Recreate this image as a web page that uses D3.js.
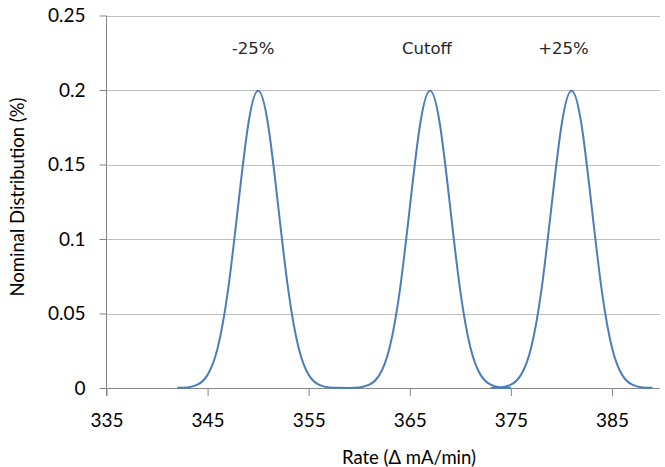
<!DOCTYPE html>
<html>
<head>
<meta charset="utf-8">
<script src="https://cdn.jsdelivr.net/npm/d3@7"></script>
<style>
	html, body { margin: 0; padding: 0; background: #fff; }
	svg { display: block; }
	.tick-label { font-family: Lato, 'Open Sans', sans-serif; font-size: 19px; fill: #000; }
	.axis-title { font-family: Lato, 'Open Sans', sans-serif; font-size: 18.5px; fill: #000; }
	.peak-label { font-family: 'DejaVu Sans', sans-serif; font-size: 16.5px; fill: #262626; }
</style>
</head>
<body>
<div id="canvas"></div>
<script>
/**
 * Nominal distribution chart
 */

// x ticks and y ticks
var xTicks = [ 335, 345, 355, 365, 375, 385 ],
	yTicks = [ 0, 0.05, 0.1, 0.15, 0.2, 0.25 ];

// -25% curve
var minusX = [ 342, 343, 344, 345, 346, 347, 348, 349, 350, 351, 352, 353, 354, 355, 356, 357, 358, 359 ],
	minusY = [ 0.0001, 0.0004, 0.0022, 0.0088, 0.027, 0.0648, 0.121, 0.176, 0.1995, 0.176, 0.121, 0.0648, 0.027, 0.0088, 0.0022, 0.0004, 0.0001, 0 ];

// cutoff curve
var cutoffX = [ 359, 360, 361, 362, 363, 364, 365, 366, 367, 368, 369, 370, 371, 372, 373, 374, 375 ],
	cutoffY = [ 0, 0.0004, 0.0022, 0.0088, 0.027, 0.0648, 0.121, 0.176, 0.1995, 0.176, 0.121, 0.0648, 0.027, 0.0088, 0.0022, 0.0004, 0.0001 ];

// +25% curve
var plusX = [ 373, 374, 375, 376, 377, 378, 379, 380, 381, 382, 383, 384, 385, 386, 387, 388, 389 ],
	plusY = [ 0.0001, 0.0004, 0.0022, 0.0088, 0.027, 0.0648, 0.121, 0.176, 0.1995, 0.176, 0.121, 0.0648, 0.027, 0.0088, 0.0022, 0.0004, 0.0001 ];

// labels above the peaks
var peakLabels = [ '-25%', 'Cutoff', '+25%' ],
	peakLabelX = [ 349.5, 366.7, 380.2 ];

var width = 665,
	height = 467,
	plotLeft = 106.5,
	plotTop = 15.5,
	plotBottom = 388,
	plotRight = 660,
	lineColor = '#4a7ebb';

var svg = d3.select('#canvas').append('svg')
	.attr('width', width)
	.attr('height', height);

var x = d3.scaleLinear().domain([ 335, 390 ]).range([ plotLeft, plotLeft + 55 * 10.11 ]),
	y = d3.scaleLinear().domain([ 0, 0.25 ]).range([ plotBottom, plotTop ]);

// horizontal gridlines
svg.append('g').selectAll('line')
	.data(yTicks.slice(1))
	.enter().append('line')
	.attr('x1', plotLeft).attr('x2', plotRight)
	.attr('y1', function(d) { return Math.round(y(d)) + 0.5; })
	.attr('y2', function(d) { return Math.round(y(d)) + 0.5; })
	.attr('stroke', '#bfbfbf')
	.attr('stroke-width', 1);

// y axis
var yAxis = svg.append('g')
	.attr('transform', 'translate(' + plotLeft + ',0)')
	.call(d3.axisLeft(y).tickValues(yTicks).tickSize(7).tickPadding(14)
		.tickFormat(function(d) { return String(+d.toFixed(2)); }));
yAxis.select('.domain').attr('stroke', '#868686').attr('d', 'M0,' + y(0.25) + 'V' + (plotBottom + 8));
yAxis.selectAll('.tick line').attr('stroke', '#868686');
yAxis.selectAll('.tick text').attr('class', 'tick-label').attr('fill', '#000');

// x axis
var xAxis = svg.append('g')
	.attr('transform', 'translate(0,' + plotBottom + ')')
	.call(d3.axisBottom(x).tickValues(xTicks).tickSize(8).tickPadding(18));
xAxis.select('.domain').attr('stroke', '#868686').attr('d', 'M' + plotLeft + ',0.5H' + plotRight);
xAxis.selectAll('.tick line').attr('stroke', '#868686');
xAxis.selectAll('.tick text').attr('class', 'tick-label').attr('fill', '#000');

svg.selectAll('.tick-label').style('font-family', 'Lato, sans-serif').style('font-size', '19px');

// curves
var line = d3.line()
	.x(function(d) { return x(d[0]); })
	.y(function(d) { return y(d[1]); })
	.curve(d3.curveNatural);

[ [ minusX, minusY ], [ cutoffX, cutoffY ], [ plusX, plusY ] ].forEach(function(s) {
	svg.append('path')
		.datum(d3.zip(s[0], s[1]))
		.attr('d', line)
		.attr('fill', 'none')
		.attr('stroke', lineColor)
		.attr('stroke-width', 2);
});

// peak labels
svg.append('g').selectAll('text')
	.data(peakLabels)
	.enter().append('text')
	.attr('class', 'peak-label')
	.attr('x', function(d, i) { return x(peakLabelX[i]); })
	.attr('y', 54)
	.attr('text-anchor', 'middle')
	.text(function(d) { return d; });

// axis titles
svg.append('text')
	.attr('class', 'axis-title')
	.attr('x', 409)
	.attr('y', 464)
	.attr('text-anchor', 'middle')
	.text('Rate (\u0394 mA/min)');

svg.append('text')
	.attr('class', 'axis-title')
	.attr('transform', 'translate(24,197) rotate(-90)')
	.attr('text-anchor', 'middle')
	.text('Nominal Distribution (%)');
</script>
</body>
</html>
